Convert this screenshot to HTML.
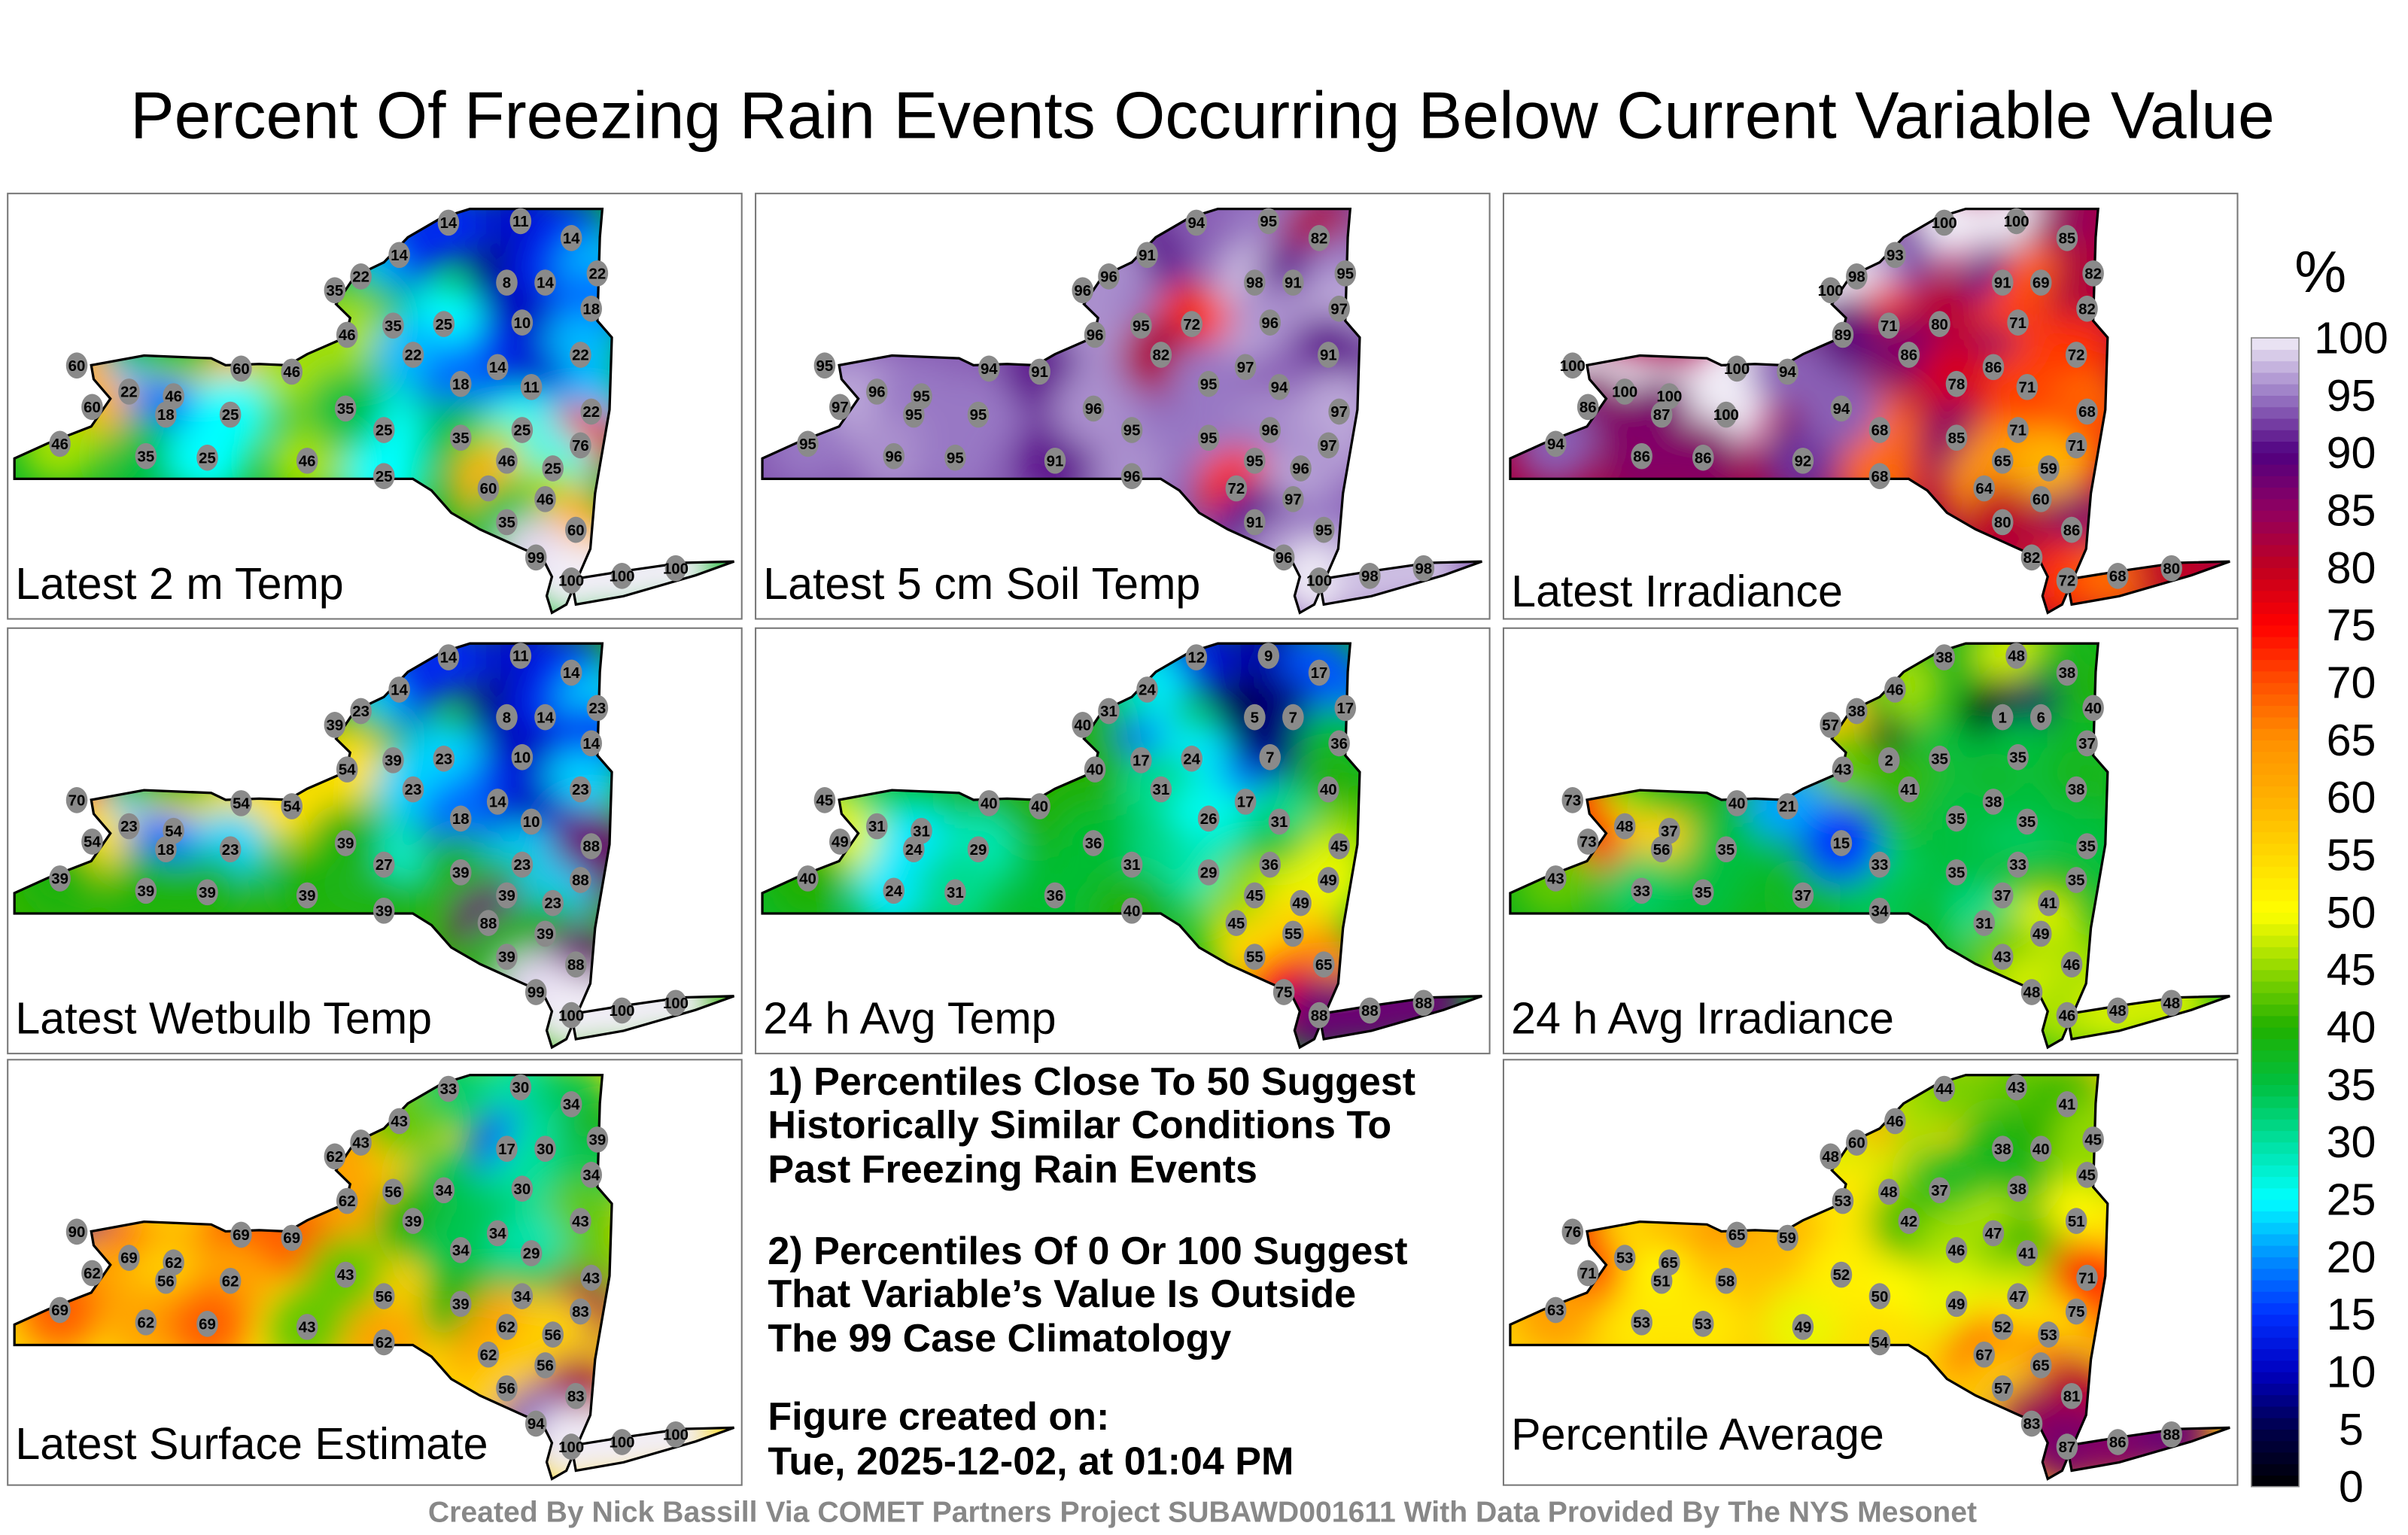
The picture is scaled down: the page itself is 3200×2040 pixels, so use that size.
<!DOCTYPE html>
<html><head><meta charset="utf-8"><style>
html,body{margin:0;padding:0;background:#fff;overflow:hidden;width:3200px;height:2040px;}
svg{display:block;font-family:"Liberation Sans",sans-serif;}
</style></head><body>
<svg id="fig" width="3200" height="2040" viewBox="0 0 1568 999.5" preserveAspectRatio="none" xmlns="http://www.w3.org/2000/svg">
<defs>
<filter id="blur" x="-20%" y="-20%" width="140%" height="140%"><feGaussianBlur stdDeviation="11"/></filter>
</defs>
<text x="783" y="90" font-size="43" text-anchor="middle" fill="#000">Percent Of Freezing Rain Events Occurring Below Current Variable Value</text>
<g id="panels"></g>
<g font-size="25.5" font-weight="bold" fill="#000">
<text x="500" y="713">1) Percentiles Close To 50 Suggest</text>
<text x="500" y="741">Historically Similar Conditions To</text>
<text x="500" y="770">Past Freezing Rain Events</text>
<text x="500" y="823">2) Percentiles Of 0 Or 100 Suggest</text>
<text x="500" y="851">That Variable’s Value Is Outside</text>
<text x="500" y="880">The 99 Case Climatology</text>
<text x="500" y="931">Figure created on:</text>
<text x="500" y="960">Tue, 2025-12-02, at 01:04 PM</text>
</g>
<text x="783" y="991" font-size="19.2" font-weight="bold" fill="#888" text-anchor="middle">Created By Nick Bassill Via COMET Partners Project SUBAWD001611 With Data Provided By The NYS Mesonet</text>
<g id="cb"></g>
</svg>
<script>
// colour scale stops
const scaleVals=[0,5,10,15,20,25,30,35,40,45,50,55,60,65,70,75,80,85,90,95,100];
const scaleCols=["#000000","#00004a","#0000c0","#0030ff","#0090ff","#00ffff","#00e0a0","#00c040","#20b000","#90d800","#ffff00","#ffd800","#ffb000","#ff9000","#ff5000","#ff0000","#c00020","#900060","#500080","#9878c4","#f2eef8"];
const tickLabels=["0","5","10","15","20","25","30","35","40","45","50","55","60","65","70","75","80","85","90","95","100"];
// station locations (first panel map coordinates)
const stX=[292,339,372,260,330,355,389,235,218,256,289,340,385,226,269,324,378,300,346,385,250,300,340,378,330,360,318,355,330,375,349,372,405,440,50,84,113,157,190,60,108,150,39,95,135,200,225,250];
const stY=[145,144,155,166,184,184,178,180,189,212,211,210,201,218,231,239,231,250,252,268,280,285,280,290,300,305,318,325,340,345,363,378,375,370,238,255,258,240,242,265,270,270,289,297,298,300,266,310];
const panelNames=["Latest 2 m Temp","Latest 5 cm Soil Temp","Latest Irradiance","Latest Wetbulb Temp","24 h Avg Temp","24 h Avg Irradiance","Latest Surface Estimate","Percentile Average"];
const v2mTemp=[14,11,14,14,8,14,22,22,35,35,25,10,18,46,22,14,22,18,11,22,25,35,25,76,46,25,60,46,35,60,99,100,100,100,60,22,46,60,46,60,18,25,46,35,25,46,35,25];
const vSoil=[94,95,82,91,98,91,95,96,96,95,72,96,97,96,82,97,91,95,94,97,95,95,96,97,95,96,72,97,91,95,96,100,98,98,95,96,95,94,91,97,95,95,95,96,95,91,96,96];
const vIrr=[100,100,85,93,91,69,82,98,100,71,80,71,82,89,86,86,72,78,71,68,68,85,71,71,65,59,64,60,80,86,82,72,68,80,100,100,100,100,94,86,87,100,94,86,86,92,94,68];
const vWetbulb=[14,11,14,14,8,14,23,23,39,39,23,10,14,54,23,14,23,18,10,88,27,39,23,88,39,23,88,39,39,88,99,100,100,100,70,23,54,54,54,54,18,23,39,39,39,39,39,39];
const vAvgTemp=[12,9,17,24,5,7,17,31,40,17,24,7,36,40,31,17,40,26,31,45,31,29,36,49,45,49,45,55,55,65,75,88,88,88,45,31,31,40,40,49,24,29,40,24,31,36,36,40];
const vAvgIrr=[38,48,38,46,1,6,40,38,57,2,35,35,37,43,41,38,38,35,35,35,33,35,33,35,37,41,31,49,43,46,48,46,48,48,73,48,37,40,21,73,56,35,43,33,35,37,15,34];
const vSurface=[33,30,34,43,17,30,39,43,62,56,34,30,34,62,39,34,43,34,29,43,56,39,34,83,62,56,62,56,56,83,94,100,100,100,90,69,62,69,69,62,56,62,69,62,69,43,43,62];
const vAverage=[44,43,41,46,38,40,45,60,48,48,37,38,45,53,42,47,51,46,41,71,50,49,47,75,52,53,67,65,57,81,83,87,86,88,76,53,65,65,59,71,51,58,63,53,53,49,52,54];
const panelValues=[v2mTemp,vSoil,vIrr,vWetbulb,vAvgTemp,vAvgIrr,vSurface,vAverage];

function hex(h){return [parseInt(h.substr(1,2),16),parseInt(h.substr(3,2),16),parseInt(h.substr(5,2),16)];}
function colorFor(v){
  v=Math.max(0,Math.min(100,v));
  for(let i=0;i<scaleVals.length-1;i++){
    if(v<=scaleVals[i+1]){
      const t=(v-scaleVals[i])/(scaleVals[i+1]-scaleVals[i]);
      const a=hex(scaleCols[i]),b=hex(scaleCols[i+1]);
      return "rgb("+a.map((c,k)=>Math.round(c+(b[k]-c)*t)).join(",")+")";
    }
  }
  return scaleCols[scaleCols.length-1];
}
const NS="http://www.w3.org/2000/svg";
function mk(t,a,p){const e=document.createElementNS(NS,t);for(const k in a)e.setAttribute(k,a[k]);if(p)p.appendChild(e);return e;}

const statePath="M9.4,298.5 L31.3,288.6 L59.4,277.7 L71.9,259.6 L61,246.9 L59.4,237.8 L93.8,231.5 L137.5,233.3 L146.9,237.8 L168.8,237 L187.5,237.8 L200,230.6 L225,219.7 L228,207 L218.8,198 L231,179.9 L250,170.8 L265.6,154.5 L287.5,141.8 L306,136 L392.2,136 L390.6,154.5 L389,208.9 L398.4,219.7 L396.9,266.8 L387.5,321.2 L384.4,357.4 L375,379 L368.8,393.6 L359.4,399 L356,388 L359.4,375.5 L353,362.8 L340.6,357.4 L312.5,344.7 L293.8,333.9 L281,319.4 L268.8,311.8 L9.4,311.8 Z";
const liPath="M372,377.3 L406,371.9 L443.8,366.5 L478,365.6 L453,374.6 L406,388.2 L375,393.6 Z";

const colX=[5,492,979], rowY=[126,409,690];
const slots=[[0,0],[1,0],[2,0],[0,1],[1,1],[2,1],[0,2],[2,2]];
const labelY=[390,390,395,390,390,390,386,380];
const panels=document.getElementById('panels');
slots.forEach((s,pi)=>{
  const dx=colX[s[0]]-5, dy=rowY[s[1]]-126;
  const g=mk('g',{transform:`translate(${dx},${dy})`},panels);
  
  
  mk('rect',{x:5,y:126,width:478,height:277,fill:'#fff',stroke:'#777','stroke-width':1},g);
  const cid='clip'+pi;
  const cp=mk('clipPath',{id:cid},g);
  mk('path',{d:statePath},cp); mk('path',{d:liPath},cp);
  const vals=panelValues[pi];
  const mean=vals.reduce((a,b)=>a+b,0)/vals.length;
  const cg=mk('g',{'clip-path':`url(#${cid})`},g);
  mk('rect',{x:0,y:120,width:490,height:290,fill:colorFor(mean)},cg);
  const bg=mk('g',{filter:'url(#blur)'},cg);
  vals.forEach((v,i)=>{mk('circle',{cx:stX[i],cy:stY[i],r:26,fill:colorFor(v)},bg);});
  const outline=mk('g',{fill:'none',stroke:'#000','stroke-width':1.6},g);
  
  
  mk('path',{d:statePath},outline); mk('path',{d:liPath},outline);
  vals.forEach((v,i)=>{
    const sg=mk('g',{},g);
    
    
    mk('ellipse',{cx:stX[i],cy:stY[i],rx:7,ry:8.5,fill:'#8a8a8a'},sg);
    const t=mk('text',{x:stX[i],y:stY[i]+3.5,'font-size':10,'font-weight':'bold','text-anchor':'middle',fill:'#000'},sg);
    t.textContent=v;
  });
  const lab=mk('text',{x:10,y:labelY[pi],'font-size':29,fill:'#000'},g);
  
  
  lab.textContent=panelNames[pi];
});

// colorbar
const cb=document.getElementById('cb');
const cbTop=220,cbBot=968,cbX=1466,cbW=31;
function yCb(v){return cbBot-(v/100)*(cbBot-cbTop);}
const bar=mk('g',{},cb);


for(let v=0;v<100;v+=1){
  mk('rect',{x:cbX,y:yCb(v+1),width:cbW,height:(cbBot-cbTop)/100+0.3,fill:colorFor(v+0.5)},bar);
}
mk('rect',{x:cbX,y:cbTop,width:cbW,height:cbBot-cbTop,fill:'none',stroke:'#888','stroke-width':0.8},bar);
scaleVals.forEach((v,i)=>{
  const t=mk('text',{x:1531,y:yCb(v)+10,'font-size':29,'text-anchor':'middle',fill:'#000'},cb);
  
  
  t.textContent=tickLabels[i];
});
const pct=mk('text',{x:1511,y:190,'font-size':38,'text-anchor':'middle',fill:'#000'},cb);


pct.textContent='%';
</script>
</body></html>
